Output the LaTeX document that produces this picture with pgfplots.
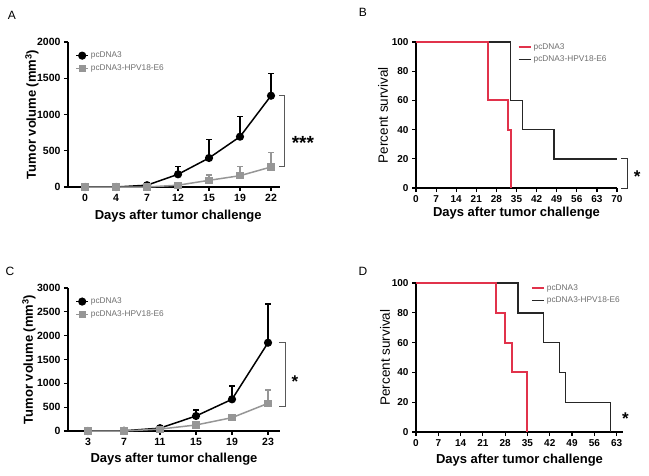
\documentclass[border=0pt]{standalone}
\usepackage{fontspec}
\setmainfont{Liberation Sans}
\usepackage{pgfplots}
\pgfplotsset{compat=1.18}

\definecolor{grayline}{RGB}{150,150,150}
\definecolor{kmred}{RGB}{225,50,75}
\definecolor{legtext}{RGB}{110,110,110}

\pgfplotsset{
  base/.style={
    scale only axis, axis lines=left, clip=false,
    axis line style={-, line width=1.2pt},
    tick align=outside, major tick length=4pt,
    every tick/.style={black, line width=1.2pt},
    tick label style={font=\bfseries\fontsize{10.5}{12}\selectfont},
    /pgf/number format/assume math mode=true,
    /pgf/number format/1000 sep={},
    scaled y ticks=false,
    label style={font=\bfseries\fontsize{13}{15}\selectfont},
    legend style={draw=none, fill=none, font=\fontsize{8.3}{10}\selectfont,
      text=legtext, anchor=north west, row sep=1.5pt},
    legend cell align=left,
    legend image code/.code={\draw[mark repeat=2,mark phase=2,#1] plot coordinates {(0pt,0pt) (6pt,0pt) (12pt,0pt)};},
  },
  tumor/.style={base,
    error bars/y dir=plus, error bars/y explicit,
    error bars/error mark options={rotate=90, mark size=3pt, line width=1.2pt},
  },
  surv/.style={base,
    tick label style={font=\bfseries\fontsize{10}{12}\selectfont},
    ylabel style={font=\fontsize{13.5}{15}\selectfont},
    ymin=0, ymax=100, ytick={0,20,...,100},
  },
}

\pgfplotstableread{
x y e
0 0 0
1 0 0
2 25 0
3 175 105
4 400 258
5 694 276
6 1259 309
}\Ablack
\pgfplotstableread{
x y e
0 0 0
1 0 0
2 0 0
3 25 0
4 92 73
5 156 124
6 276 202
}\Agray
\pgfplotstableread{
x y e
3 0 0
7 5 0
11 60 0
15 315 125
19 665 279
23 1852 812
}\Cblack
\pgfplotstableread{
x y e
3 0 0
7 0 0
11 40 0
15 126 0
19 280 0
23 580 280
}\Cgray

\begin{document}
\begin{tikzpicture}[x=1pt,y=1pt]
\path[use as bounding box] (0,0) rectangle (649,475);

\node[font=\fontsize{12}{14}\selectfont] at (12,460) {A};
\node[font=\fontsize{12}{14}\selectfont] at (363,463) {B};
\node[font=\fontsize{12}{14}\selectfont] at (10,204) {C};
\node[font=\fontsize{12}{14}\selectfont] at (363,204) {D};

% Panel A
\begin{axis}[tumor, at={(68pt,288pt)}, anchor=south west, width=212pt, height=145pt,
  xmin=-0.55, xmax=6.29, ymin=0, ymax=2000, ytick={0,500,...,2000},
  xtick={0,...,6}, xticklabels={0,4,7,12,15,19,22},
  xlabel={Days after tumor challenge}, ylabel={Tumor volume (mm\textsuperscript{3})},
  xlabel style={at={(axis description cs:0.52,-0.2)}, anchor=center},
  ylabel style={at={(axis description cs:-0.17,0.5)}, anchor=center},
  legend style={at={(axis description cs:0.02,0.96)}}]
\addplot[black, line width=1.5pt, mark=*, mark size=3.3pt, error bars/error bar style={black, line width=1.3pt}]
  table[x=x, y=y, y error=e] {\Ablack};
\addlegendentry{pcDNA3}
\addplot[grayline, line width=1.5pt, mark=square*, mark size=2.8pt, error bars/error bar style={grayline, line width=1.3pt}]
  table[x=x, y=y, y error=e] {\Agray};
\addlegendentry{pcDNA3-HPV18-E6}
\draw[line width=1pt, gray!70!black] (axis cs:6.25,1259) -- (axis cs:6.45,1259) -- (axis cs:6.45,276) -- (axis cs:6.25,276);
\node[font=\bfseries\fontsize{19}{20}\selectfont] at (axis cs:7.03,610) {***};
\end{axis}

% Panel B
\begin{axis}[surv, at={(416pt,287pt)}, anchor=south west, width=201pt, height=146pt,
  xmin=0, xmax=70, xtick={0,7,...,70},
  xlabel={Days after tumor challenge}, ylabel={Percent survival},
  xlabel style={at={(axis description cs:0.5,-0.171)}, anchor=center},
  ylabel style={at={(axis description cs:-0.164,0.5)}, anchor=center},
  legend style={at={(axis description cs:0.49,1.02)}}, reverse legend]
\addplot[black!85, line width=1.4pt] coordinates {(0,100) (33,100) (33,60) (37,60) (37,40) (48,40) (48,20) (70,20)};
\addlegendentry{pcDNA3-HPV18-E6}
\addplot[kmred, line width=2pt] coordinates {(0,100) (25,100) (25,60) (32,60) (32,40) (33,40) (33,0)};
\addlegendentry{pcDNA3}
\draw[line width=1pt, black!80] (axis cs:71.5,20) -- (axis cs:73.5,20) -- (axis cs:73.5,0) -- (axis cs:71.5,0);
\node[font=\bfseries\fontsize{17}{18}\selectfont] at (axis cs:77,8) {*};
\end{axis}

% Panel C
\begin{axis}[tumor, at={(68pt,44pt)}, anchor=south west, width=212pt, height=143pt,
  xmin=0.78, xmax=24.33, ymin=0, ymax=3000, ytick={0,500,...,3000},
  xtick={3,7,11,15,19,23},
  xlabel={Days after tumor challenge}, ylabel={Tumor volume (mm\textsuperscript{3})},
  xlabel style={at={(axis description cs:0.5,-0.196)}, anchor=center},
  ylabel style={at={(axis description cs:-0.184,0.5)}, anchor=center},
  legend style={at={(axis description cs:0.02,0.96)}}]
\addplot[black, line width=1.5pt, mark=*, mark size=3.3pt, error bars/error bar style={black, line width=1.3pt}]
  table[x=x, y=y, y error=e] {\Cblack};
\addlegendentry{pcDNA3}
\addplot[grayline, line width=1.5pt, mark=square*, mark size=2.8pt, error bars/error bar style={grayline, line width=1.3pt}]
  table[x=x, y=y, y error=e] {\Cgray};
\addlegendentry{pcDNA3-HPV18-E6}
\draw[line width=1pt, gray!70!black] (axis cs:24.2,1852) -- (axis cs:24.9,1852) -- (axis cs:24.9,524) -- (axis cs:24.2,524);
\node[font=\bfseries\fontsize{17}{18}\selectfont] at (axis cs:26,1030) {*};
\end{axis}

% Panel D
\begin{axis}[surv, at={(416pt,43pt)}, anchor=south west, width=207pt, height=149pt,
  xmin=0, xmax=65, xtick={0,7,...,63},
  xlabel={Days after tumor challenge}, ylabel={Percent survival},
  xlabel style={at={(axis description cs:0.5,-0.188)}, anchor=center},
  ylabel style={at={(axis description cs:-0.15,0.5)}, anchor=center},
  legend style={at={(axis description cs:0.54,1.02)}}, reverse legend]
\addplot[black!85, line width=1.4pt] coordinates {(0,100) (32,100) (32,80) (40,80) (40,60) (45,60) (45,40) (47,40) (47,20) (61,20) (61,0)};
\addlegendentry{pcDNA3-HPV18-E6}
\addplot[kmred, line width=2pt] coordinates {(0,100) (25,100) (25,80) (28,80) (28,60) (30,60) (30,40) (35,40) (35,0)};
\addlegendentry{pcDNA3}
\node[font=\bfseries\fontsize{17}{18}\selectfont] at (axis cs:65.8,9) {*};
\end{axis}
\end{tikzpicture}
\end{document}
